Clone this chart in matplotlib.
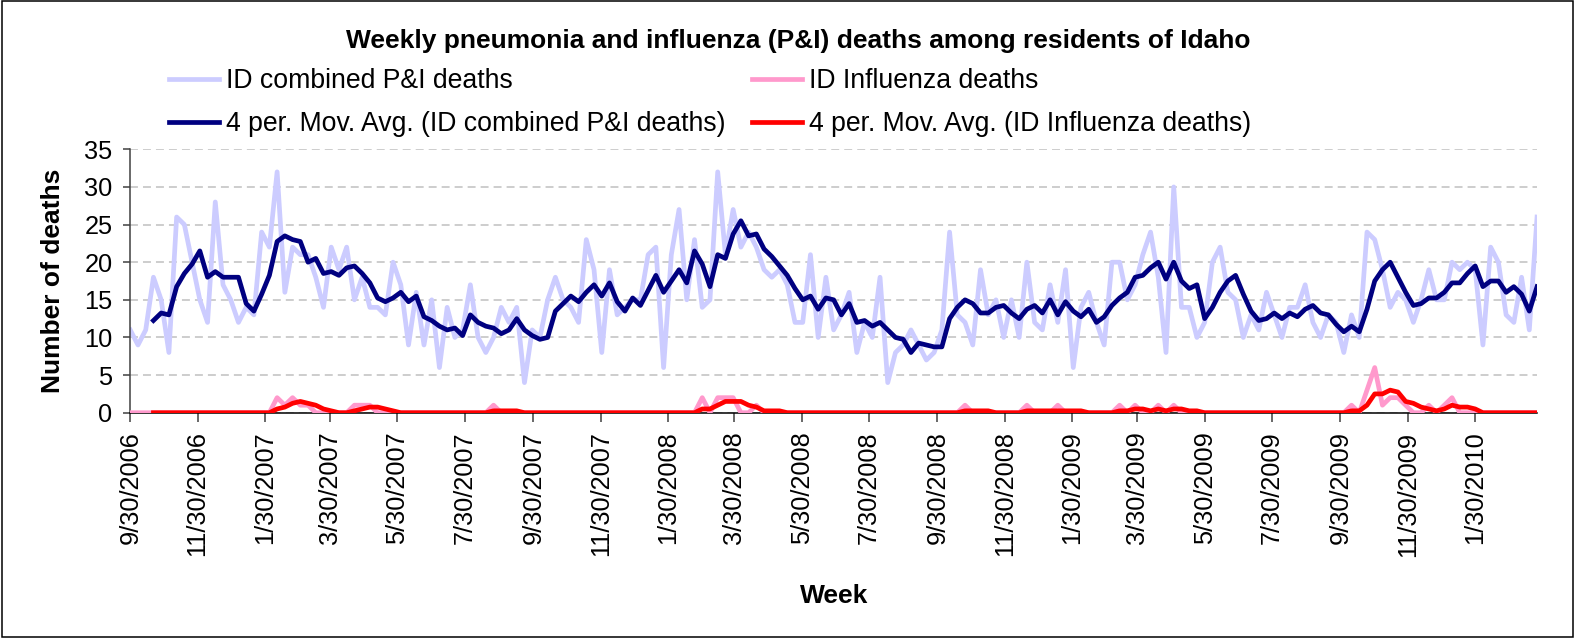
import matplotlib
matplotlib.use("Agg")
import matplotlib.pyplot as plt
import matplotlib.dates as mdates
from matplotlib.ticker import FuncFormatter
from matplotlib.patches import Rectangle
import pandas as pd

plt.rcParams['font.family'] = ['Liberation Sans', 'DejaVu Sans']

# weekly data, weeks ending Saturday
first_week = "2006-09-30"
n_weeks = 183
weeks = pd.date_range(first_week, periods=n_weeks, freq="7D")

combined = [
    11, 9, 11, 18, 15, 8, 26, 25, 20, 15,
    12, 28, 17, 15, 12, 14, 13, 24, 22, 32,
    16, 22, 21, 21, 18, 14, 22, 19, 22, 15,
    18, 14, 14, 13, 20, 17, 9, 16, 9, 15,
    6, 14, 10, 11, 17, 10, 8, 10, 14, 12,
    14, 4, 11, 10, 15, 18, 15, 14, 12, 23,
    19, 8, 19, 13, 14, 15, 15, 21, 22, 6,
    21, 27, 15, 23, 14, 15, 32, 21, 27, 22,
    24, 22, 19, 18, 19, 17, 12, 12, 21, 10,
    18, 11, 13, 16, 8, 12, 10, 18, 4, 8,
    9, 11, 9, 7, 8, 11, 24, 13, 12, 9,
    19, 13, 15, 10, 15, 10, 20, 12, 11, 17,
    12, 19, 6, 14, 16, 12, 9, 20, 20, 15,
    17, 21, 24, 18, 8, 30, 14, 14, 10, 12,
    20, 22, 16, 15, 10, 13, 11, 16, 13, 10,
    14, 14, 17, 12, 10, 13, 12, 8, 13, 10,
    24, 23, 19, 14, 16, 15, 12, 15, 19, 15,
    15, 20, 19, 20, 19, 9, 22, 20, 13, 12,
    18, 11, 26,
]

influenza = [
    0, 0, 0, 0, 0, 0, 0, 0, 0, 0,
    0, 0, 0, 0, 0, 0, 0, 0, 0, 2,
    1, 2, 1, 1, 0, 0, 0, 0, 0, 1,
    1, 1, 0, 0, 0, 0, 0, 0, 0, 0,
    0, 0, 0, 0, 0, 0, 0, 1, 0, 0,
    0, 0, 0, 0, 0, 0, 0, 0, 0, 0,
    0, 0, 0, 0, 0, 0, 0, 0, 0, 0,
    0, 0, 0, 0, 2, 0, 2, 2, 2, 0,
    0, 1, 0, 0, 0, 0, 0, 0, 0, 0,
    0, 0, 0, 0, 0, 0, 0, 0, 0, 0,
    0, 0, 0, 0, 0, 0, 0, 0, 1, 0,
    0, 0, 0, 0, 0, 0, 1, 0, 0, 0,
    1, 0, 0, 0, 0, 0, 0, 0, 1, 0,
    1, 0, 0, 1, 0, 1, 0, 0, 0, 0,
    0, 0, 0, 0, 0, 0, 0, 0, 0, 0,
    0, 0, 0, 0, 0, 0, 0, 0, 1, 0,
    3, 6, 1, 2, 2, 1, 0, 0, 1, 0,
    1, 2, 0, 0, 0, 0, 0, 0, 0, 0,
    0, 0, 0,
]

# 4 period moving average trendlines (like Excel)
combined_ma = pd.Series(combined).rolling(4).mean()
influenza_ma = pd.Series(influenza).rolling(4).mean()

fig = plt.figure(figsize=(15.75, 6.38), dpi=100)
ax = fig.add_axes([0.0827, 0.3531, 0.8932, 0.4129])

lw = 3.4
l1, = ax.plot(weeks, combined, color='#ccccff', lw=lw, solid_joinstyle='round',
              zorder=2, label='ID combined P&I deaths')
l2, = ax.plot(weeks, influenza, color='#ff99cc', lw=lw, solid_joinstyle='round',
              zorder=3, label='ID Influenza deaths')
l3, = ax.plot(weeks, combined_ma, color='#000080', lw=lw, solid_joinstyle='round',
              zorder=4, label='4 per. Mov. Avg. (ID combined P&I deaths)')
l4, = ax.plot(weeks, influenza_ma, color='#ff0000', lw=lw, solid_joinstyle='round',
              zorder=5, label='4 per. Mov. Avg. (ID Influenza deaths)')

ax.set_xlim(weeks[0], weeks[-1])
ax.set_ylim(0, 35)
ax.set_yticks(range(0, 36, 5))

ax.xaxis.set_major_locator(mdates.MonthLocator(bymonth=[1, 3, 5, 7, 9, 11], bymonthday=30))

def date_label(v, pos):
    d = mdates.num2date(v)
    return f"{d.month}/{d.day}/{d.year}"

ax.xaxis.set_major_formatter(FuncFormatter(date_label))

ax.yaxis.grid(True, color='#c0c0c0', linestyle=(0, (5.2, 3.3)), linewidth=1.1)
ax.set_axisbelow(True)

ax.spines[['top', 'right']].set_visible(False)
ax.spines['left'].set_color('#404040')
ax.spines['bottom'].set_color('black')
ax.spines['left'].set_linewidth(1.1)
ax.spines['bottom'].set_linewidth(1.1)

ax.tick_params(axis='y', direction='out', length=4.8, width=1.1, color='#404040',
               labelsize=18.3, pad=8)
ax.tick_params(axis='x', direction='out', length=6.5, width=1.1, color='#404040',
               labelsize=18.3, pad=7, labelrotation=90)

fig.text(0.507, 0.935, "Weekly pneumonia and influenza (P&I) deaths among residents of Idaho",
         ha='center', va='center', fontsize=19, fontweight='bold')
fig.text(0.0337, 0.5596, "Number of deaths", rotation=90, ha='center', va='center',
         fontsize=19, fontweight='bold')
fig.text(0.5295, 0.066, "Week", ha='center', va='center', fontsize=19, fontweight='bold')

fig.legend(handles=[l1, l3, l2, l4], ncol=2, loc='upper left',
           bbox_to_anchor=(0.1073, 0.893), frameon=False, fontsize=19.2,
           handlelength=1.88, handletextpad=0.27, columnspacing=0.98,
           labelspacing=0.63, borderpad=0, borderaxespad=0)

# chart area border
fig.patches.append(Rectangle((0.0015, 0.002), 0.997, 0.996, transform=fig.transFigure,
                             fill=False, lw=1.1, ec='black'))

fig.savefig('out.png', dpi=100)
